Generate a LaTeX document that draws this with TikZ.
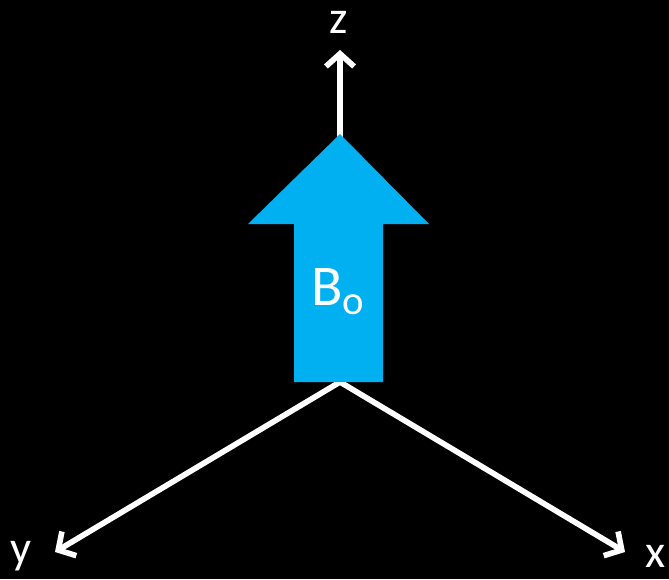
\documentclass[tikz,border=0pt]{standalone}
\usepackage{fontspec}
\setmainfont{Carlito}
\usetikzlibrary{arrows.meta}
\definecolor{fieldblue}{RGB}{0,176,240}

\begin{document}
\begin{tikzpicture}[x=0.025cm, y=-0.025cm, line cap=round, line join=round,
  axis/.style={white, line width=4pt, -{Straight Barb[length=9pt, width=20pt, line width=4pt]}},
  axislabel/.style={white, font=\fontsize{33}{36}\selectfont, inner sep=0pt}]
% ---------- frame ----------
\fill[black] (0,0) rectangle (669,579);
\useasboundingbox (0,0) rectangle (669,579);

% ---------- axes ----------
\coordinate (O) at (340,382);
\coordinate (Z) at (340,50);
\coordinate (X) at (625,552);
\coordinate (Y) at (55,552);
\draw[axis] (O) -- (Z);
\draw[axis] (O) -- (X);
\draw[axis] (O) -- (Y);
\node[axislabel] (zl) at (339,22) {z};
\node[axislabel] (xl) at (656,556) {x};
\node[axislabel] (yl) at (21,556) {y};

% ---------- static field B0 ----------
\fill[fieldblue] (294,382) -- (294,224) -- (248,224) -- (340,134)
  -- (429,224) -- (383,224) -- (383,382) -- cycle;
\node[white, font=\fontsize{41}{44}\selectfont, inner sep=0pt] (B0) at (338,292)
  {B\raisebox{-6.5pt}{\fontsize{29}{30}\selectfont o}};

\end{tikzpicture}
\end{document}
